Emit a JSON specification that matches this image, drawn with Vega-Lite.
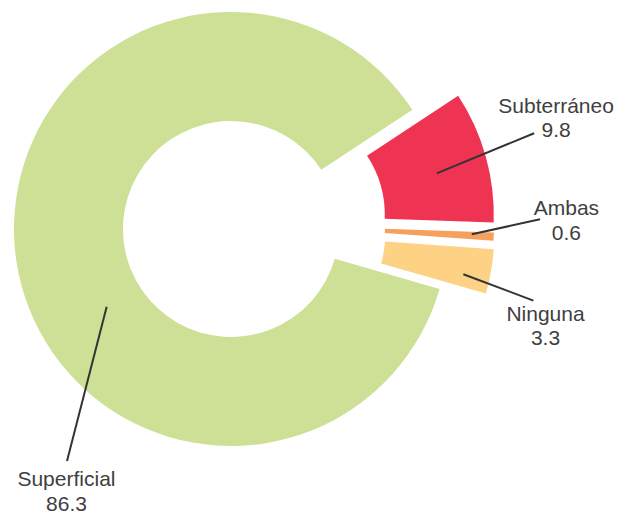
{
  "$schema": "https://vega.github.io/schema/vega-lite/v6.json",
  "width": 625,
  "height": 514,
  "autosize": "none",
  "padding": 0,
  "background": "white",
  "config": {"view": {"stroke": null}},
  "data": {
    "values": [
      {"fuente": "Subterráneo", "valor": 9.8},
      {"fuente": "Ambas", "valor": 0.6},
      {"fuente": "Ninguna", "valor": 3.3},
      {"fuente": "Superficial", "valor": 86.3}
    ]
  },
  "transform": [
    {"window": [{"op": "row_number", "as": "orden"}]},
    {"stack": "valor", "groupby": [], "sort": [{"field": "orden", "order": "ascending"}], "as": ["v0", "v1"]},
    {"calculate": "0.98960 + PI * (datum.v0 + datum.v1) / 100", "as": "mid"},
    {"calculate": "[21.11, 21.20, 21.34, 0][datum.orden - 1]", "as": "ex"},
    {"calculate": "[6.45, 1.80, -2.17, 0][datum.orden - 1]", "as": "ey"},
    {"calculate": "datum.mid + [-3.08, -4.39, 7.22, -49.34][datum.orden - 1] * PI / 180", "as": "aT"},
    {"calculate": "[158.2, 154.6, 151.8, 143.0][datum.orden - 1]", "as": "rT"},
    {"calculate": "datum.rT * sin(datum.aT)", "as": "tx"},
    {"calculate": "datum.rT * cos(datum.aT)", "as": "ty"},
    {"calculate": "datum.mid + [0.51, -1.8, 0.93, -23.36][datum.orden - 1] * PI / 180", "as": "aS"},
    {"calculate": "[98.2, 111.0, 109.1, 67.56][datum.orden - 1]", "as": "rS"},
    {"calculate": "datum.mid + [-1.87, -4.86, 3.24, -46.10][datum.orden - 1] * PI / 180", "as": "aE"},
    {"calculate": "[146.5, 142.5, 143.2, 130.9][datum.orden - 1]", "as": "rE"},
    {"calculate": "datum.rS * sin(datum.aS)", "as": "lx1"},
    {"calculate": "datum.rS * cos(datum.aS)", "as": "ly1"},
    {"calculate": "datum.rE * sin(datum.aE)", "as": "lx2"},
    {"calculate": "datum.rE * cos(datum.aE)", "as": "ly2"},
    {"calculate": "datum.fuente + '\\n' + format(datum.valor, '.1f')", "as": "etiqueta"}
  ],
  "encoding": {
    "x": {"field": "ex", "type": "quantitative", "scale": {"domain": [-106.45, 181.57], "nice": false, "zero": false}, "axis": null},
    "y": {"field": "ey", "type": "quantitative", "scale": {"domain": [-131.34, 105.53], "nice": false, "zero": false}, "axis": null}
  },
  "layer": [
    {
      "mark": {"type": "arc", "innerRadius": 108, "outerRadius": 217},
      "encoding": {
        "theta": {"field": "v0", "type": "quantitative", "stack": null, "scale": {"domain": [0, 100], "range": [0.9896, 7.27279]}},
        "theta2": {"field": "v1"},
        "color": {
          "field": "fuente",
          "type": "nominal",
          "scale": {"domain": ["Subterráneo", "Ambas", "Ninguna", "Superficial"], "range": ["#ee3452", "#f6a05e", "#fdd284", "#cee095"]},
          "legend": null
        }
      }
    },
    {
      "mark": {"type": "rule", "color": "#333333", "strokeWidth": 2},
      "encoding": {
        "x": {"field": "lx1", "type": "quantitative"},
        "y": {"field": "ly1", "type": "quantitative"},
        "x2": {"field": "lx2"},
        "y2": {"field": "ly2"}
      }
    },
    {
      "mark": {"type": "text", "font": "Liberation Sans", "fontSize": 21, "lineHeight": 24.5, "lineBreak": "\n", "align": "center", "baseline": "middle", "dy": -12, "color": "#404040"},
      "encoding": {
        "x": {"field": "tx", "type": "quantitative"},
        "y": {"field": "ty", "type": "quantitative"},
        "text": {"field": "etiqueta", "type": "nominal"}
      }
    }
  ]
}
